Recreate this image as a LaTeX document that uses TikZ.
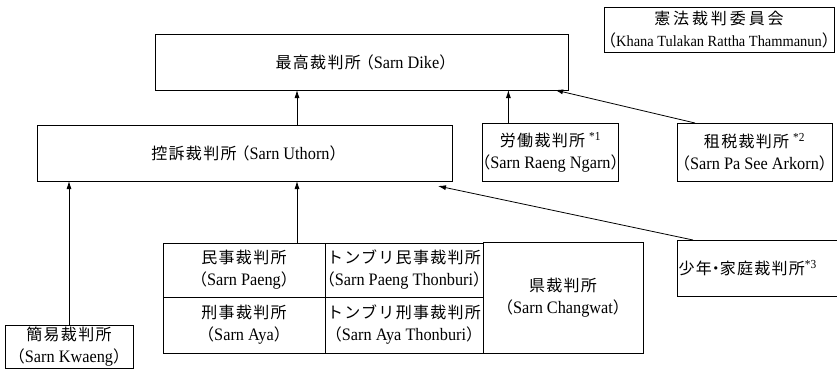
\documentclass[tikz,border=0pt]{standalone}
\usepackage{fontspec}
\setmainfont{Liberation Serif}[FakeStretch=0.93]
\newfontfamily\jpf[LetterSpace=8]{Noto Sans CJK JP}
\newfontfamily\jpw[LetterSpace=18]{Noto Sans CJK JP}
\newfontfamily\jpp[RawFeature=+halt]{Noto Sans CJK JP}
\usetikzlibrary{arrows.meta,calc}
\newcommand\J[1]{{\fontsize{16}{22}\jpf #1}}
\newcommand\LP{{\fontsize{16}{22}\jpp （}}
\newcommand\RP{{\fontsize{16}{22}\jpp ）}}
\newcommand\MD{{\fontsize{16}{22}\jpp ・}}
\begin{document}
\begin{tikzpicture}[x=1pt,y=-1pt,
  court/.style={draw,line width=0.9pt,inner sep=0pt,outer sep=0pt,align=center,font=\fontsize{17.5}{22}\selectfont},
  arr/.style={line width=0.8pt,-{Latex[length=8pt,width=5pt]}}]
\useasboundingbox (0,0) rectangle (837,383);
\node[court,minimum width=413pt,minimum height=56pt] (dike) at (361.5,62) {\J{最高裁判所}\hspace{5pt}\LP Sarn Dike\RP};
\node[court,minimum width=230pt,minimum height=45pt] (khana) at (719,29.5) {{\fontsize{16}{22}\jpw 憲法裁判委員会}\\{\fontsize{15.5}{18}\selectfont\LP Khana Tulakan Rattha Thammanun\RP}};
\node[court,minimum width=415pt,minimum height=56pt] (uthorn) at (244.5,153) {\J{控訴裁判所}\hspace{5pt}\LP Sarn Uthorn\RP};
\node[court,minimum width=135pt,minimum height=58pt] (labour) at (550.5,152) {\J{労働裁判所}~\textsuperscript{*1}\\\LP Sarn Raeng Ngarn\RP};
\node[court,minimum width=155pt,minimum height=58pt] (tax) at (754.5,152) {\J{租税裁判所}~\textsuperscript{*2}\\\LP Sarn Pa See Arkorn\RP};
\node[court,minimum width=160pt,minimum height=56pt,text width=157pt,align=left] (juv) at (757,268) {\J{少年}\MD\J{家庭裁判所}\textsuperscript{*3}};
\node[court,minimum width=162pt,minimum height=54pt] (t1) at (244,270) {\J{民事裁判所}\\\LP Sarn Paeng\RP};
\node[court,minimum width=158pt,minimum height=54pt] (t2) at (404,270) {\J{トンブリ民事裁判所}\\\LP Sarn Paeng Thonburi\RP};
\node[court,minimum width=162pt,minimum height=56pt] (t3) at (244,325) {\J{刑事裁判所}\\\LP Sarn Aya\RP};
\node[court,minimum width=158pt,minimum height=56pt] (t4) at (404,325) {\J{トンブリ刑事裁判所}\\\LP Sarn Aya Thonburi\RP};
\node[court,minimum width=160pt,minimum height=111pt] (t5) at (563,297.5) {\J{県裁判所}\\\LP Sarn Changwat\RP};
\node[court,minimum width=128pt,minimum height=43pt] (kwaeng) at (69,347) {\J{簡易裁判所}\\\LP Sarn Kwaeng\RP};
\draw[arr] (kwaeng.north) -- (kwaeng.north |- uthorn.south);
\coordinate (tA) at ($(t1.north west)+(134,0)$);
\draw[arr] (tA) -- (tA |- uthorn.south);
\coordinate (uA) at ($(uthorn.north west)+(260,0)$);
\draw[arr] (uA) -- (uA |- dike.south);
\coordinate (lA) at ($(labour.north west)+(26,0)$);
\draw[arr] (lA) -- (lA |- dike.south);
\coordinate (xA) at ($(tax.north west)+(18,0)$);
\coordinate (xB) at ($(dike.south east)+(-13,0)$);
\draw[arr] (xA) -- (xB);
\coordinate (jA) at ($(juv.north west)+(16,0)$);
\coordinate (jB) at ($(uthorn.south east)+(-14,5)$);
\draw[arr] (jA) -- (jB);
\end{tikzpicture}
\end{document}
